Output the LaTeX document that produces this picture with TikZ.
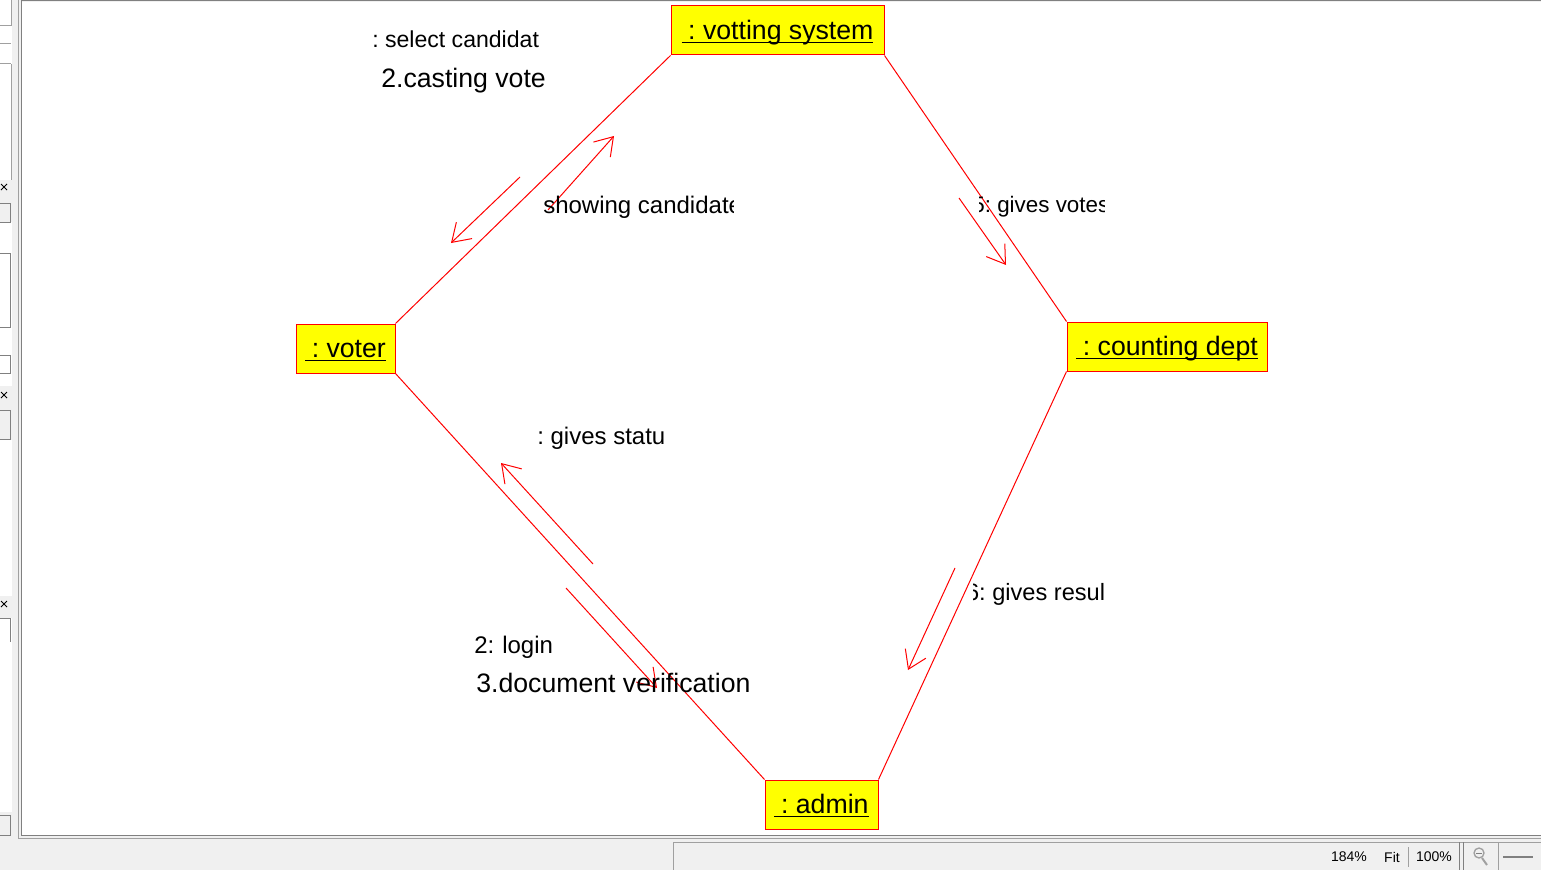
\documentclass[tikz,border=0pt]{standalone}
\usepackage{fontspec}
\setmainfont{Liberation Sans}
\usetikzlibrary{arrows.meta}
\definecolor{uiGrey}{HTML}{F0F0F0}
\definecolor{uiLine}{HTML}{A0A0A0}
\definecolor{uiDark}{HTML}{808080}
\definecolor{boxRed}{HTML}{FF0000}
\definecolor{boxYellow}{HTML}{FFFF00}
\newcommand\objul[1]{\setbox0\hbox{#1}\rlap{\rule[-2.6pt]{\wd0}{1.3pt}}\box0}
\tikzset{
  objbox/.style={draw=boxRed, fill=boxYellow, line width=0.75pt, inner sep=0pt, minimum height=49*0.75pt, text height=16pt, text depth=2pt, font=\fontsize{20}{24}\selectfont},
  link/.style={draw=boxRed, line width=0.75pt},
  msg/.style={draw=boxRed, line width=0.75pt, -{Straight Barb[length=13pt,width=17pt,line width=0.75pt]}},
  biglabel/.style={anchor=base west, inner sep=0pt, font=\fontsize{20}{24}\selectfont},
  smalllabel/.style={anchor=base west, inner sep=0pt, font=\fontsize{18}{22}\selectfont},
  uitext/.style={inner sep=0pt, font=\fontsize{10.5}{12}\selectfont}
}
\begin{document}
\begin{tikzpicture}[x=0.75pt, y=-0.75pt]
\useasboundingbox (0,0) rectangle (1541,870);
% --- window chrome ---
\fill[uiGrey] (0,0) rectangle (1541,870);
\fill[white] (22,2) rectangle (1541,836);
\draw[uiLine, line width=0.75pt] (18,0) -- (18,838) -- (1541,838);
\draw[uiDark, line width=0.75pt] (21,1) -- (1541,1);
\draw[uiDark, line width=0.75pt] (21,1) -- (21,835) -- (1541,835);
% left side panel
\fill[white] (0,0) rectangle (12,180);
\fill[white] (0,222) rectangle (12,386);
\fill[white] (0,440) rectangle (12,596);
\fill[white] (0,618) rectangle (12,812);
\draw[uiLine, line width=0.75pt] (0,26) -- (11,26) -- (11,0);
\draw[uiLine, line width=0.75pt] (0,44) -- (11,44);
\draw[uiLine, line width=0.75pt] (0,64) -- (11,64);
\draw[uiLine, line width=0.75pt] (11,64) -- (11,180);
\draw[uiDark, line width=0.75pt] (0,203) -- (10,203) -- (10,222) -- (0,222);
\draw[uiDark, line width=0.75pt] (0,253) -- (10,253) -- (10,327) -- (0,327);
\draw[uiDark, line width=0.75pt] (0,355) -- (10,355) -- (10,373) -- (0,373);
\draw[uiDark, line width=0.75pt] (0,410) -- (10,410) -- (10,439) -- (0,439);
\draw[uiDark, line width=0.75pt] (0,618) -- (10,618) -- (10,642);
\draw[uiDark, line width=0.75pt] (0,815) -- (10,815) -- (10,835) -- (0,835);
\foreach \yy in {187,395,604}{
  \draw[black, line width=0.75pt] (1,\yy-3) -- (7,\yy+3);
  \draw[black, line width=0.75pt] (1,\yy+3) -- (7,\yy-3);
}
% status bar
\draw[uiLine, line width=0.75pt] (673,870) -- (673,842) -- (1541,842);
\node[uitext] (zoomA) at (1349,857) {184\%};
\node[uitext] (zoomFit) at (1392,857) {Fit};
\node[uitext] (zoomB) at (1434,857) {100\%};
\draw[uiLine, line width=0.75pt] (1408,847) -- (1408,867);
\draw[uiDark, line width=0.75pt] (1459,842) -- (1459,870);
\draw[uiDark, line width=0.75pt] (1463,842) -- (1463,870);
\draw[uiLine, line width=0.75pt] (1498,842) -- (1498,870);
\draw[uiLine, line width=1pt] (1479,853) circle (5);
\draw[uiLine, line width=1.5pt] (1482,858) -- (1487,865);
\draw[uiDark, line width=0.75pt] (1476,853) -- (1482,853);
\draw[uiDark, line width=1pt] (1503,857) -- (1533,857);
% --- objects ---
\node[objbox, minimum width=213*0.75pt] (vs) at (777.5,30.5) {\objul{\hspace{5pt}:\ votting system}};
\node[objbox, minimum width=99*0.75pt] (voter) at (345.5,348.5) {\objul{\hspace{5pt}:\ voter}};
\node[objbox, minimum width=200*0.75pt] (cd) at (1167,346.5) {\objul{\hspace{5pt}:\ counting dept}};
\node[objbox, minimum width=113*0.75pt] (admin) at (821.5,804.5) {\objul{\hspace{5pt}:\ admin}};
% --- links ---
\draw[link] (voter.north east) -- (vs.south west);
\draw[link] (vs.south east) -- (cd.north west);
\draw[link] (cd.south west) -- (admin.north east);
\draw[link] (voter.south east) -- (admin.north west);
% --- message arrows ---
\coordinate (m1s) at (520,177); \coordinate (m1e) at (451,243);
\coordinate (m2s) at (548,210); \coordinate (m2e) at (614,136);
\coordinate (m3s) at (959,198); \coordinate (m3e) at (1006,265);
\coordinate (m4s) at (955,568); \coordinate (m4e) at (908,670);
\coordinate (m5s) at (593,564); \coordinate (m5e) at (501,463);
\coordinate (m6s) at (566,588); \coordinate (m6e) at (657,688);
\draw[msg] (m1s) -- (m1e);
\draw[msg] (m2s) -- (m2e);
\draw[msg] (m3s) -- (m3e);
\draw[msg] (m4s) -- (m4e);
\draw[msg] (m5s) -- (m5e);
\draw[msg] (m6s) -- (m6e);
% --- labels ---
\node[smalllabel, font=\fontsize{17.3}{21}\selectfont] (l1) at (372,48) {:\ select candidat};
\node[biglabel] (l2) at (381,88) {2.casting vote};
\begin{scope}
  \clip (530,180) rectangle (733,225);
  \node[smalllabel] (l3) at (543,213) {showing candidate};
\end{scope}
\begin{scope}
  \clip (979,180) rectangle (1104,225);
  \node[smalllabel, font=\fontsize{16.8}{21}\selectfont] (l4) at (997,212) {\llap{5:\ }gives votes};
\end{scope}
\node[smalllabel] (l5) at (537,444) {:\ gives statu};
\begin{scope}
  \clip (973,570) rectangle (1104,615);
  \node[smalllabel, font=\fontsize{17.7}{21}\selectfont] (l6) at (992,600) {\llap{6:\ }gives result};
\end{scope}
\node[smalllabel] (l7) at (474,653) {2:\hspace{6pt}login};
\node[biglabel] (l8) at (476,692) {3.document verification};
\end{tikzpicture}
\end{document}
